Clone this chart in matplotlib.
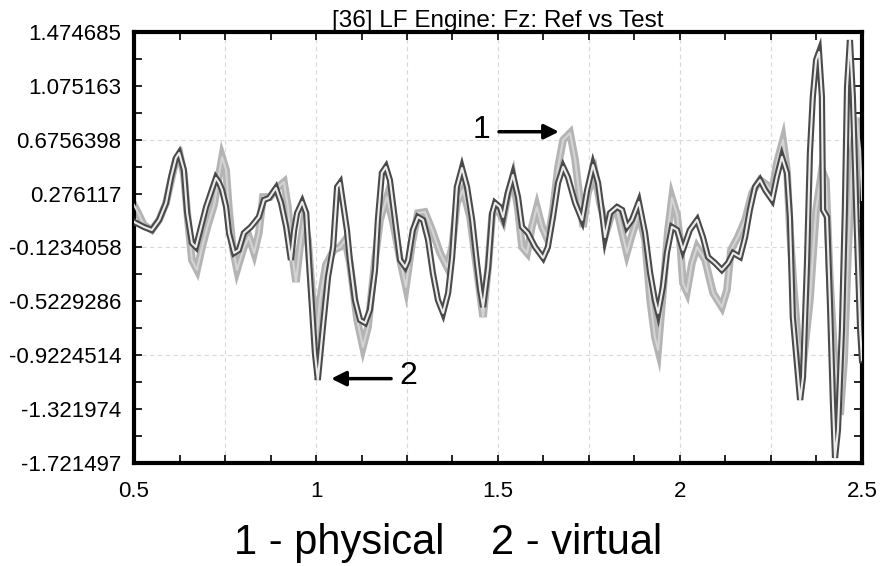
import numpy as np
import matplotlib
matplotlib.use("Agg")
import matplotlib.pyplot as plt

# physical (ref) signal - light gray curve
t_phys = [0.500, 0.514, 0.527, 0.549, 0.569, 0.588, 0.602, 0.615, 0.626, 0.637,
          0.648, 0.659, 0.673, 0.687, 0.703, 0.720, 0.731, 0.742, 0.753, 0.761,
          0.772, 0.783, 0.802, 0.816, 0.830, 0.843, 0.854, 0.874, 0.893, 0.912,
          0.923, 0.934, 0.945, 0.956, 0.967, 0.978, 0.989, 1.000, 1.011, 1.027,
          1.049, 1.066, 1.080, 1.093, 1.113, 1.129, 1.143, 1.162, 1.176, 1.195,
          1.212, 1.231, 1.247, 1.264, 1.280, 1.299, 1.319, 1.341, 1.360, 1.374,
          1.387, 1.404, 1.423, 1.442, 1.459, 1.473, 1.484, 1.492, 1.505, 1.514,
          1.527, 1.541, 1.555, 1.566, 1.580, 1.593, 1.607, 1.621, 1.637, 1.651,
          1.665, 1.679, 1.698, 1.712, 1.725, 1.734, 1.747, 1.766, 1.780, 1.799,
          1.813, 1.827, 1.841, 1.854, 1.868, 1.887, 1.904, 1.918, 1.931, 1.940,
          1.953, 1.967, 1.978, 1.992, 2.000, 2.008, 2.019, 2.033, 2.047, 2.069,
          2.091, 2.115, 2.129, 2.140, 2.159, 2.179, 2.198, 2.220, 2.239, 2.253,
          2.266, 2.283, 2.294, 2.302, 2.313, 2.324, 2.338, 2.357, 2.374, 2.390,
          2.401, 2.412, 2.423, 2.440, 2.451, 2.462, 2.475, 2.486, 2.495, 2.500]
f_phys = [0.192, 0.118, 0.043, 0.006, 0.081, 0.207, 0.377, 0.526, 0.563, 0.414,
          0.081, -0.216, -0.290, -0.120, 0.043, 0.192, 0.377, 0.548, 0.451, 0.155,
          -0.142, -0.290, -0.120, -0.046, -0.164, -0.016, 0.251, 0.251, 0.318, 0.362,
          0.177, -0.164, -0.379, -0.120, 0.081, -0.068, -0.461, -0.846, -0.513, -0.253,
          -0.142, -0.120, -0.068, -0.238, -0.661, -0.861, -0.713, -0.216, 0.081, 0.251,
          0.058, -0.216, -0.416, -0.090, 0.132, 0.140, 0.006, -0.164, -0.268, -0.120,
          0.207, 0.303, 0.103, -0.290, -0.639, -0.268, 0.118, 0.155, 0.132, 0.081,
          0.266, 0.399, 0.155, -0.120, -0.164, 0.029, 0.177, 0.029, -0.068, 0.155,
          0.474, 0.674, 0.726, 0.526, 0.229, 0.029, 0.281, 0.429, 0.207, 0.006,
          0.132, 0.155, -0.016, -0.164, -0.031, 0.132, -0.068, -0.513, -0.787, -0.883,
          -0.461, 0.006, 0.244, 0.118, -0.068, -0.387, -0.453, -0.238, -0.120, -0.216,
          -0.461, -0.565, -0.439, -0.142, -0.046, 0.081, 0.281, 0.377, 0.340, 0.288,
          0.503, 0.674, 0.451, 0.006, -0.439, -0.809, -0.995, -0.513, 0.155, 0.451,
          0.377, -0.364, -0.883, -1.365, -0.958, -0.142, 0.600, 0.837, 0.600, 0.229]

# virtual (test) signal - dark gray curve
t_virt = [0.500, 0.527, 0.549, 0.569, 0.588, 0.602, 0.615, 0.624, 0.637, 0.646,
          0.659, 0.670, 0.684, 0.698, 0.714, 0.725, 0.734, 0.742, 0.753, 0.761,
          0.775, 0.788, 0.802, 0.821, 0.843, 0.857, 0.871, 0.890, 0.904, 0.918,
          0.931, 0.940, 0.948, 0.962, 0.973, 0.981, 0.997, 1.005, 1.019, 1.033,
          1.047, 1.058, 1.066, 1.074, 1.085, 1.093, 1.107, 1.121, 1.135, 1.148,
          1.162, 1.170, 1.181, 1.192, 1.203, 1.217, 1.231, 1.245, 1.253, 1.266,
          1.280, 1.294, 1.308, 1.321, 1.335, 1.349, 1.363, 1.374, 1.387, 1.401,
          1.415, 1.429, 1.442, 1.451, 1.459, 1.473, 1.484, 1.492, 1.505, 1.514,
          1.527, 1.541, 1.555, 1.566, 1.582, 1.602, 1.624, 1.637, 1.651, 1.665,
          1.679, 1.692, 1.712, 1.731, 1.745, 1.761, 1.775, 1.786, 1.794, 1.808,
          1.827, 1.841, 1.854, 1.868, 1.887, 1.904, 1.918, 1.931, 1.940, 1.953,
          1.964, 1.978, 1.992, 2.000, 2.008, 2.027, 2.047, 2.063, 2.077, 2.096,
          2.115, 2.132, 2.146, 2.165, 2.179, 2.192, 2.206, 2.220, 2.234, 2.253,
          2.266, 2.280, 2.294, 2.302, 2.310, 2.321, 2.330, 2.338, 2.349, 2.357,
          2.365, 2.374, 2.382, 2.390, 2.393, 2.404, 2.412, 2.420, 2.426, 2.434,
          2.445, 2.453, 2.459, 2.467, 2.475, 2.486, 2.495, 2.500]
f_virt = [0.066, 0.029, 0.006, 0.081, 0.207, 0.399, 0.540, 0.577, 0.451, 0.132,
          -0.090, -0.120, 0.029, 0.177, 0.303, 0.392, 0.355, 0.303, 0.177, -0.016,
          -0.164, -0.142, -0.016, 0.029, 0.103, 0.229, 0.244, 0.318, 0.207, 0.029,
          -0.216, 0.006, 0.132, 0.214, 0.132, -0.238, -0.906, -1.106, -0.713, -0.342,
          -0.120, 0.325, 0.355, 0.207, 0.006, -0.216, -0.513, -0.661, -0.683, -0.587,
          -0.290, 0.081, 0.429, 0.474, 0.377, 0.081, -0.216, -0.268, -0.216, 0.006,
          0.103, 0.081, -0.068, -0.312, -0.513, -0.609, -0.461, -0.194, 0.325, 0.466,
          0.325, 0.081, -0.238, -0.439, -0.565, -0.268, 0.132, 0.207, 0.177, 0.103,
          0.281, 0.414, 0.251, 0.029, -0.016, -0.120, -0.201, -0.120, 0.103, 0.355,
          0.474, 0.399, 0.207, 0.081, 0.303, 0.488, 0.355, 0.132, -0.046, 0.132,
          0.177, 0.155, 0.029, 0.081, 0.214, -0.016, -0.312, -0.513, -0.609, -0.416,
          -0.164, 0.029, 0.006, -0.068, -0.142, 0.006, 0.081, -0.046, -0.194, -0.238,
          -0.290, -0.238, -0.164, -0.194, -0.046, 0.155, 0.325, 0.377, 0.303, 0.229,
          0.399, 0.548, 0.429, 0.103, -0.639, -0.980, -1.254, -1.084, -0.238, 0.577,
          0.993, 1.267, 1.326, 0.993, 0.155, 0.103, -0.535, -1.254, -1.684, -1.477,
          -0.735, 0.155, 1.067, 1.415, 0.993, 0.006, -0.735, -0.958]

y_ticks = [1.474685, 1.075163, 0.6756398, 0.276117, -0.1234058,
           -0.5229286, -0.9224514, -1.321974, -1.721497]
y_labels = ["1.474685", "1.075163", "0.6756398", "0.276117", "-0.1234058",
            "-0.5229286", "-0.9224514", "-1.321974", "-1.721497"]
x_ticks = [0.5, 1, 1.5, 2, 2.5]
x_labels = ["0.5", "1", "1.5", "2", "2.5"]

plt.rcParams["font.family"] = ["Liberation Sans", "DejaVu Sans"]

fig = plt.figure(figsize=(8.8, 5.66), dpi=100)
ax = fig.add_axes([0.1523, 0.182, 0.8272, 0.7615])

# grid: vertical every 0.25, horizontal every other y tick
for gx in np.arange(0.75, 2.5, 0.25):
    ax.axvline(gx, color="#d9d9d9", lw=0.8, ls=(0, (4, 3)), zorder=0)
for gy in y_ticks[2:-1:2]:
    ax.axhline(gy, color="#d9d9d9", lw=0.8, ls=(0, (4, 3)), zorder=0)

# hollow "tube" look of the traces
ax.plot(t_phys, f_phys, color="#b4b4b4", lw=5.5, solid_joinstyle="miter", zorder=2)
ax.plot(t_phys, f_phys, color="#d4d4d4", lw=1.5, zorder=3)
ax.plot(t_virt, f_virt, color="#4a4a4a", lw=4.5, solid_joinstyle="miter", zorder=4)
ax.plot(t_virt, f_virt, color="#ececec", lw=1.5, zorder=5)

ax.set_xlim(0.5, 2.5)
ax.set_ylim(y_ticks[-1], y_ticks[0])
ax.set_xticks(x_ticks, labels=x_labels)
ax.set_xticks(np.arange(0.5, 2.5001, 0.125), minor=True)
ax.set_yticks(y_ticks, labels=y_labels)
ax.set_yticks([(a + b) / 2 for a, b in zip(y_ticks[:-1], y_ticks[1:])], minor=True)
ax.tick_params(which="both", direction="in", top=True, right=True,
               length=6, width=1.2, labelsize=16)
ax.tick_params(axis="x", pad=13)
ax.tick_params(axis="y", pad=9)

for s in ax.spines.values():
    s.set_linewidth(3)
    s.set_color("black")

ax.set_title("[36] LF Engine: Fz: Ref vs Test", fontsize=17.5, pad=1)

# arrows marking the two curves
ax.annotate("", xy=(1.675, 0.735), xytext=(1.495, 0.735),
            arrowprops=dict(arrowstyle="-|>", color="black", lw=2.5, mutation_scale=22))
ax.text(1.456, 0.745, "1", fontsize=23, ha="center", va="center")
ax.annotate("", xy=(1.034, -1.096), xytext=(1.214, -1.096),
            arrowprops=dict(arrowstyle="-|>", color="black", lw=2.5, mutation_scale=22))
ax.text(1.254, -1.075, "2", fontsize=23, ha="center", va="center")

fig.text(0.509, 0.006, "1 - physical    2 - virtual", fontsize=30,
         ha="center", va="bottom")

fig.savefig("out.png", dpi=100)
